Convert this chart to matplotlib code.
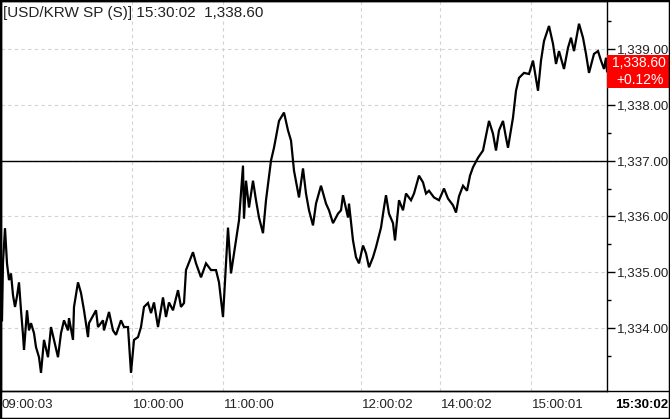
import matplotlib
matplotlib.use("Agg")
import matplotlib.pyplot as plt
from matplotlib.patches import Rectangle
from matplotlib.lines import Line2D

plt.rcParams['font.family'] = ['Liberation Sans', 'DejaVu Sans']

# tick number (position on the time axis) and price
bar = [1, 2, 4, 5, 6, 8, 10, 12, 14, 16, 18, 20, 22, 23, 26, 28, 30, 33, 35, 38,
       40, 43, 47, 50, 53, 57, 60, 63, 67, 68, 72, 73, 77, 80, 83, 87, 88, 95, 97, 102,
       103, 108, 112, 115, 120, 123, 127, 130, 133, 137, 140, 143, 147, 150, 153, 157, 162, 165, 168, 172,
       177, 180, 183, 185, 192, 195, 200, 205, 210, 215, 218, 222, 227, 230, 235, 238, 242, 243, 245, 248,
       252, 255, 258, 262, 265, 270, 273, 278, 283, 287, 290, 293, 298, 302, 305, 308, 312, 315, 320, 325,
       328, 332, 337, 340, 342, 347, 348, 352, 355, 358, 362, 365, 368, 372, 375, 380, 383, 385, 388, 392,
       394, 398, 402, 405, 410, 413, 418, 422, 425, 428, 433, 438, 443, 447, 452, 455, 458, 462, 466, 469,
       472, 477, 482, 485, 488, 492, 495, 498, 502, 505, 507, 512, 515, 518, 523, 528, 532, 535, 537, 540,
       543, 548, 552, 555, 558, 563, 567, 570, 573, 578, 582, 585, 588, 593, 597, 600, 603, 605, 606]
price = [1334.14, 1335.18, 1335.79, 1335.48, 1335.16, 1334.86, 1334.98, 1334.59, 1334.38, 1334.57,
         1334.82, 1334.32, 1333.88, 1333.61, 1334.32, 1333.96, 1334.09, 1333.91, 1333.66, 1333.48,
         1333.20, 1333.79, 1333.48, 1334.02, 1333.79, 1333.48, 1333.91, 1334.14, 1333.96, 1334.18,
         1333.79, 1334.38, 1334.82, 1334.63, 1334.32, 1333.84, 1334.09, 1334.32, 1334.02, 1334.14,
         1333.96, 1334.29, 1333.96, 1333.88, 1334.14, 1334.02, 1334.02, 1333.20, 1333.79, 1333.84,
         1334.02, 1334.38, 1334.45, 1334.27, 1334.46, 1334.02, 1334.55, 1334.20, 1334.46, 1334.32,
         1334.68, 1334.38, 1334.45, 1335.04, 1335.36, 1335.16, 1334.91, 1335.16, 1335.04, 1335.04,
         1334.82, 1334.20, 1335.80, 1334.98, 1335.57, 1335.93, 1336.91, 1335.96, 1336.64, 1336.16,
         1336.64, 1336.29, 1335.98, 1335.70, 1336.29, 1337.00, 1337.23, 1337.71, 1337.86, 1337.54,
         1337.36, 1336.82, 1336.34, 1336.86, 1336.41, 1336.11, 1335.84, 1336.23, 1336.55, 1336.23,
         1336.11, 1335.88, 1336.05, 1336.11, 1336.38, 1335.98, 1336.23, 1335.57, 1335.27, 1335.16,
         1335.48, 1335.34, 1335.09, 1335.27, 1335.45, 1335.80, 1336.16, 1336.38, 1336.05, 1335.88,
         1335.57, 1336.29, 1336.11, 1336.41, 1336.29, 1336.41, 1336.73, 1336.61, 1336.41, 1336.46,
         1336.34, 1336.29, 1336.50, 1336.32, 1336.20, 1336.07, 1336.36, 1336.55, 1336.46, 1336.73,
         1336.88, 1337.05, 1337.18, 1337.45, 1337.71, 1337.48, 1337.18, 1337.54, 1337.71, 1337.41,
         1337.23, 1337.77, 1338.25, 1338.48, 1338.57, 1338.55, 1338.79, 1338.46, 1338.25, 1338.79,
         1339.14, 1339.41, 1339.09, 1338.73, 1338.96, 1338.64, 1339.02, 1339.20, 1338.96, 1339.45,
         1339.20, 1338.91, 1338.57, 1338.91, 1338.96, 1338.79, 1338.64, 1338.84, 1338.60]

tick_pos = [0, 131, 222, 360, 439, 530]
tick_lab = ["09:00:03", "10:00:00", "11:00:00", "12:00:02", "14:00:02", "15:00:01"]
last_time = "15:30:02"
prev_close = 1337.0
last = price[-1]
change = (last - prev_close) / prev_close * 100

W, H = 670, 419
fig = plt.figure(figsize=(W / 100, H / 100), dpi=100)
ax = fig.add_axes([1 / W, 28 / H, 606 / W, 390 / H])

ax.plot(bar, price, color='black', lw=1.6, solid_joinstyle='miter')
ax.axhline(prev_close, color='black', lw=1)

ax.set_xlim(0, 606)
ax.set_ylim(1332.875, 1339.857)

yt_major = [1334, 1335, 1336, 1337, 1338, 1339]
ax.set_yticks(yt_major)
ax.set_yticks([1333.5, 1334.5, 1335.5, 1336.5, 1337.5, 1338.5, 1339.5], minor=True)
ax.set_yticklabels([f"{v:,.2f}" for v in yt_major])
ax.yaxis.tick_right()
ax.tick_params(axis='y', which='major', direction='out', length=6, width=1, pad=1,
               labelsize=9.6, colors='black', labelcolor='#222222')
ax.tick_params(axis='y', which='minor', direction='out', length=3, width=1)

ax.set_xticks(tick_pos)
ax.set_xticklabels([])
ax.tick_params(axis='x', length=0)
ax.grid(True, color='#d2d2d2', linestyle=(0, (3, 3)), lw=0.8)

for s in ax.spines.values():
    s.set_color('black')
    s.set_linewidth(1)

xt = ax.get_xaxis_transform()
for p, lab in zip(tick_pos, tick_lab):
    ax.text(p + 1, -14 / 390, lab, transform=xt, ha='left', va='center', fontsize=9.5,
            color='#222222')
ax.text(1.0 + 61 / 606, -14 / 390, last_time, transform=ax.transAxes, ha='right',
        va='center', fontsize=9.5, fontweight='bold')

ax.text(2 / 606, 1 - 12 / 390, f"[USD/KRW SP (S)] {last_time}  {last:,.2f}",
        transform=ax.transAxes, ha='left', va='center', fontsize=11, color='#222222')

# last price box on the right scale
yt = ax.get_yaxis_transform()
ax.add_patch(Rectangle((1.0, last - 0.30), 63 / 606, 0.59, transform=yt,
                       facecolor='#ff0000', edgecolor='none', clip_on=False, zorder=5))
ax.text(1.0 + 32 / 606, last + 0.14, f"{last:,.2f}", transform=yt, ha='center',
        va='center', color='white', fontsize=10, clip_on=False, zorder=6)
ax.text(1.0 + 33 / 606, last - 0.15, f"{change:+.2f}%", transform=yt, ha='center',
        va='center', color='white', fontsize=10, clip_on=False, zorder=6)

fig.add_artist(Line2D([0, 1], [28 / H, 28 / H], color='black', lw=1, transform=fig.transFigure))
fig.add_artist(Rectangle((0, 0), 1, 1, transform=fig.transFigure, fill=False,
                         edgecolor='black', lw=2.5))

fig.savefig("out.png", dpi=100)
